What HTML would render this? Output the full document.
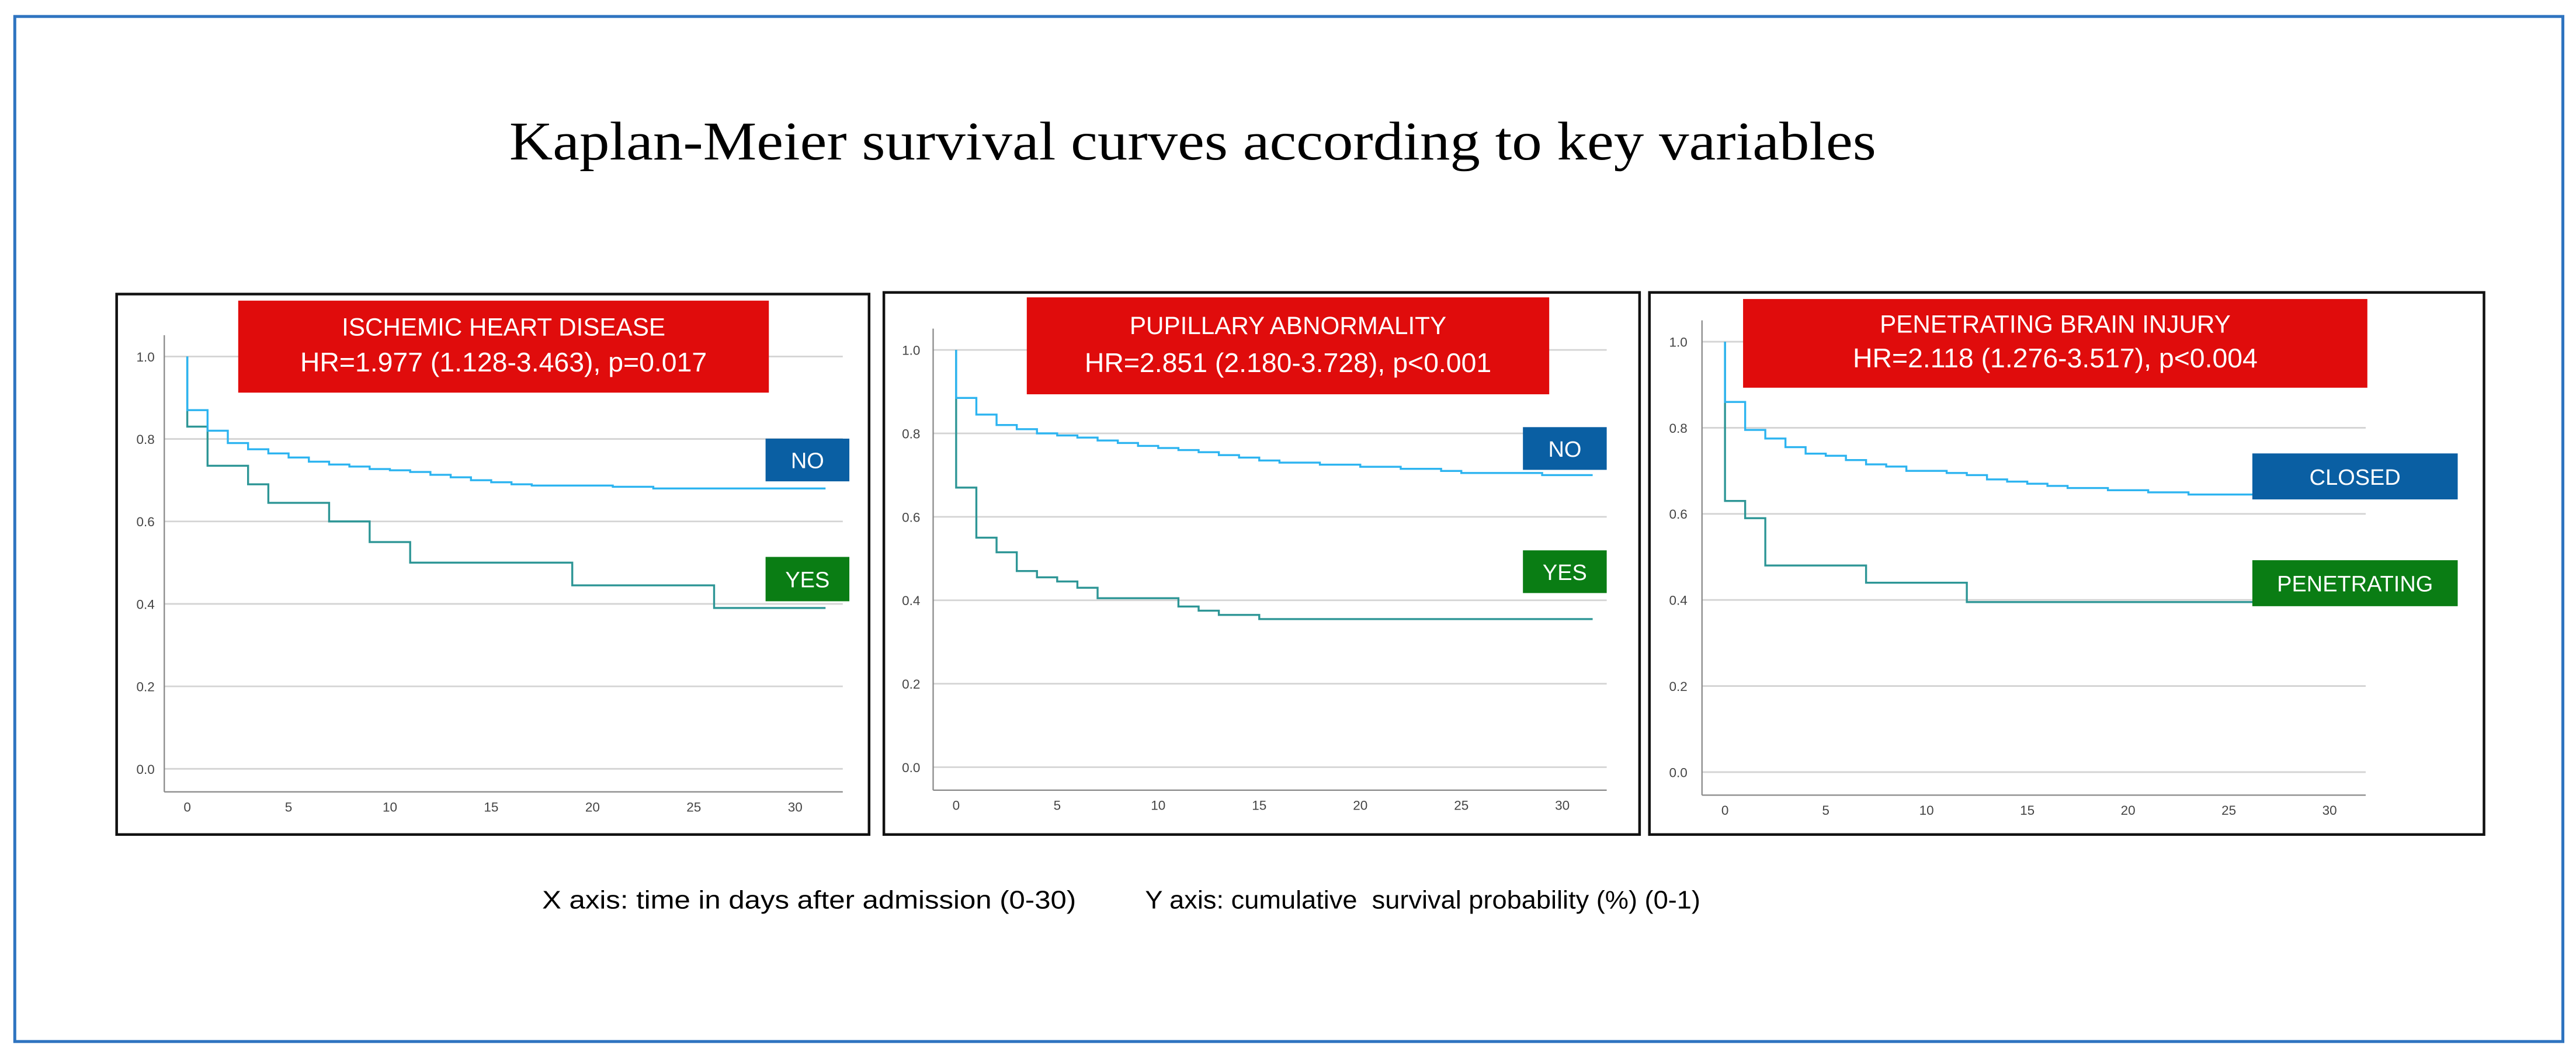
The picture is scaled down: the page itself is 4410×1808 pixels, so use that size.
<!DOCTYPE html>
<html><head><meta charset="utf-8">
<style>
html,body{margin:0;padding:0;background:#fff;}
svg{display:block;}
</style></head>
<body>
<svg id="fig" width="4410" height="1808" viewBox="0 0 1568 642.8" xmlns="http://www.w3.org/2000/svg">
<rect x="9" y="10" width="1551" height="624" fill="none" stroke="#2f74c0" stroke-width="1.8"/>
<text x="310" y="97" textLength="832" lengthAdjust="spacingAndGlyphs" font-family="Liberation Serif, serif" font-size="33" fill="#000">Kaplan-Meier survival curves according to key variables</text>
<text x="330" y="553" textLength="325" lengthAdjust="spacingAndGlyphs" font-family="Liberation Sans, sans-serif" font-size="15.5" fill="#000">X axis: time in days after admission (0-30)</text>
<text x="697" y="553" textLength="338" lengthAdjust="spacingAndGlyphs" font-family="Liberation Sans, sans-serif" font-size="15.5" fill="#000" xml:space="preserve">Y axis: cumulative  survival probability (%) (0-1)</text>
<g id="panels"></g>
</svg>
<script>
const NS="http://www.w3.org/2000/svg";
const xTicks=[0,5,10,15,20,25,30];
const yTicks=[0.0,0.2,0.4,0.6,0.8,1.0];
// Panel 1: ischemic heart disease
const p1Titles=["ISCHEMIC HEART DISEASE","HR=1.977 (1.128-3.463), p=0.017"];
const p1NoTimes=[0,1,2,3,4,5,6,7,8,9,10,11,12,13,14,15,16,17,21,23,31.5];
const p1NoSurv=[0.87,0.82,0.79,0.775,0.765,0.755,0.745,0.738,0.733,0.727,0.724,0.72,0.713,0.707,0.70,0.695,0.69,0.687,0.684,0.68,0.68];
const p1YesTimes=[0,1,3,4,7,9,11,19,26,31.5];
const p1YesSurv=[0.83,0.735,0.69,0.645,0.60,0.55,0.50,0.445,0.39,0.39];
// Panel 2: pupillary abnormality
const p2Titles=["PUPILLARY ABNORMALITY","HR=2.851 (2.180-3.728), p<0.001"];
const p2NoTimes=[0,1,2,3,4,5,6,7,8,9,10,11,12,13,14,15,16,18,20,22,24,25,29,31.5];
const p2NoSurv=[0.885,0.845,0.82,0.81,0.80,0.795,0.79,0.783,0.777,0.77,0.765,0.76,0.755,0.748,0.742,0.735,0.73,0.725,0.72,0.715,0.71,0.705,0.70,0.70];
const p2YesTimes=[0,1,2,3,4,5,6,7,11,12,13,15,31.5];
const p2YesSurv=[0.67,0.55,0.515,0.47,0.455,0.445,0.43,0.405,0.385,0.375,0.365,0.355,0.355];
// Panel 3: penetrating brain injury
const p3Titles=["PENETRATING BRAIN INJURY","HR=2.118 (1.276-3.517), p<0.004"];
const p3NoTimes=[0,1,2,3,4,5,6,7,8,9,11,12,13,14,15,16,17,19,21,23,26.5];
const p3NoSurv=[0.86,0.795,0.775,0.755,0.74,0.735,0.725,0.715,0.71,0.70,0.695,0.69,0.68,0.675,0.67,0.665,0.66,0.655,0.65,0.645,0.645];
const p3YesTimes=[0,1,2,7,12,26.5];
const p3YesSurv=[0.63,0.59,0.48,0.44,0.395,0.395];

const panels=[
 {id:"ischemic",frame:[71,179,458,329],x0:114,x30:484,y1:217,y0:468,axisX:100,axisY:482,gridR:513,labX:83,
  red:[145,183,323,56],titles:p1Titles,
  boxes:[{t:"NO",c:"#0a5fa3",r:[466,267,51,26]},{t:"YES",c:"#0a7d14",r:[466,339,51,27]}],
  nt:p1NoTimes,ns:p1NoSurv,yt:p1YesTimes,ys:p1YesSurv},
 {id:"pupillary",frame:[538,178,460,330],x0:582,x30:951,y1:213,y0:467,axisX:568,axisY:481,gridR:978,labX:549,
  red:[625,181,318,59],titles:p2Titles,
  boxes:[{t:"NO",c:"#0a5fa3",r:[927,260,51,26]},{t:"YES",c:"#0a7d14",r:[927,335,51,26]}],
  nt:p2NoTimes,ns:p2NoSurv,yt:p2YesTimes,ys:p2YesSurv},
 {id:"penetrating",frame:[1004,178,508,330],x0:1050,x30:1418,y1:208,y0:470,axisX:1036,axisY:484,gridR:1440,labX:1016,
  red:[1061,182,380,54],titles:p3Titles,
  boxes:[{t:"CLOSED",c:"#0a5fa3",r:[1371,276,125,28]},{t:"PENETRATING",c:"#0a7d14",r:[1371,341,125,28]}],
  nt:p3NoTimes,ns:p3NoSurv,yt:p3YesTimes,ys:p3YesSurv}
];

function mk(tag,attrs,parent){const e=document.createElementNS(NS,tag);for(const k in attrs)e.setAttribute(k,attrs[k]);parent.appendChild(e);return e;}
function stepPath(ts,ss,sx,sy){let d="M"+sx(ts[0])+","+sy(1.0)+" L"+sx(ts[0])+","+sy(ss[0]);for(let i=1;i<ts.length;i++){d+=" L"+sx(ts[i])+","+sy(ss[i-1])+" L"+sx(ts[i])+","+sy(ss[i]);}return d;}

const root=document.getElementById("panels");
panels.forEach(p=>{
 const sx=t=>p.x0+(p.x30-p.x0)*t/30;
 const sy=v=>p.y0+(p.y1-p.y0)*v;
 const g=mk("g",{},root);
 
 
 const fr=mk("rect",{x:p.frame[0],y:p.frame[1],width:p.frame[2],height:p.frame[3],fill:"#fff",stroke:"#111","stroke-width":1.6},g);
 
 
 yTicks.forEach(v=>{
  const l=mk("line",{x1:p.axisX,x2:p.gridR,y1:sy(v),y2:sy(v),stroke:"#d4d4d4","stroke-width":1},g);
  
  
  const t=mk("text",{x:p.labX,y:sy(v)+3,"font-family":"Liberation Sans, sans-serif","font-size":8,fill:"#444"},g);
  t.textContent=v.toFixed(1);
  
  
 });
 const ya=mk("line",{x1:p.axisX,x2:p.axisX,y1:p.y1-13,y2:p.axisY,stroke:"#888","stroke-width":0.8},g);
 
 
 const xa=mk("line",{x1:p.axisX,x2:p.gridR,y1:p.axisY,y2:p.axisY,stroke:"#888","stroke-width":0.8},g);
 
 
 xTicks.forEach(v=>{
  const t=mk("text",{x:sx(v),y:p.axisY+12,"text-anchor":"middle","font-family":"Liberation Sans, sans-serif","font-size":8,fill:"#444"},g);
  t.textContent=v;
  
  
 });
 const yes=mk("path",{d:stepPath(p.yt,p.ys,sx,sy),fill:"none",stroke:"#2e9696","stroke-width":1.2},g);
 
 
 const no=mk("path",{d:stepPath(p.nt,p.ns,sx,sy),fill:"none",stroke:"#2db4f0","stroke-width":1.2},g);
 
 
 const rb=mk("rect",{x:p.red[0],y:p.red[1],width:p.red[2],height:p.red[3],fill:"#e00c0c"},g);
 
 
 p.titles.forEach((s,i)=>{
  const t=mk("text",{x:p.red[0]+p.red[2]/2,y:p.red[1]+p.red[3]*(i?0.77:0.38),"text-anchor":"middle","font-family":"Liberation Sans, sans-serif","font-size":i?16.5:15,fill:"#fff"},g);
  t.textContent=s;
  
  
 });
 p.boxes.forEach(b=>{
  const r=mk("rect",{x:b.r[0],y:b.r[1],width:b.r[2],height:b.r[3],fill:b.c},g);
  
  
  const t=mk("text",{x:b.r[0]+b.r[2]/2,y:b.r[1]+b.r[3]/2+5,"text-anchor":"middle","font-family":"Liberation Sans, sans-serif","font-size":13.5,fill:"#fff"},g);
  t.textContent=b.t;
  
  
 });
});
</script>
</body></html>
